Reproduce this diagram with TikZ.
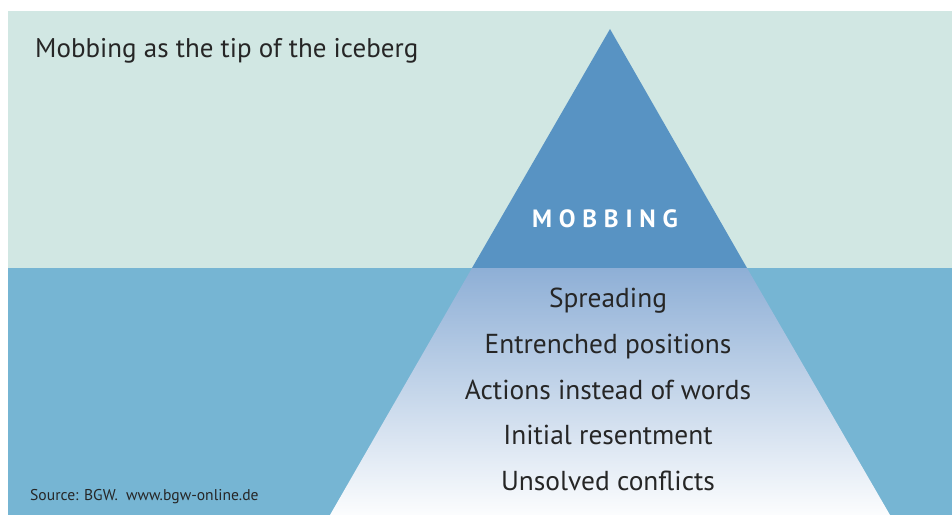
\documentclass[tikz,border=0pt]{standalone}
\usepackage{fontspec}
\setmainfont{PT Sans}
\begin{document}
\begin{tikzpicture}[x=1pt,y=1pt,
  label/.style={text=black!85, font=\fontsize{27.4}{30}\selectfont, inner sep=0pt, anchor=base},
]
\definecolor{sky}{HTML}{D1E7E3}
\definecolor{sea}{HTML}{76B5D3}
\definecolor{tip}{HTML}{5893C3}
\definecolor{icetop}{HTML}{8EAFD6}
\useasboundingbox (0,0) rectangle (952,515);
\fill[white] (0,0) rectangle (952,515);
% sky and sea
\fill[sky] (8,247) rectangle (952,504);
\fill[sea] (8,0) rectangle (952,247);
% tip
\fill[tip] (610,486) -- (472,247) -- (747,247) -- cycle;
% submerged part
\shade[top color=icetop, bottom color=white!97!icetop] (472,247) -- (747,247) -- (890,0) -- (330,0) -- cycle;
% texts
\node[label, anchor=base west, font=\fontsize{27}{30}\selectfont] (title) at (35,457) {Mobbing as the tip of the iceberg};
\node[label, text=white, font=\fontsize{25}{28}\selectfont\bfseries] (mob) at (605,288) {\addfontfeature{LetterSpace=27}MOBBING};
\node[label] (l1) at (608,208) {Spreading};
\node[label] (l2) at (608,162) {Entrenched positions};
\node[label] (l3) at (608,116) {Actions instead of words};
\node[label] (l4) at (608,71) {Initial resentment};
\node[label] (l5) at (608,25) {Unsolved conflicts};
\node[label, anchor=base west, font=\fontsize{15.6}{18}\selectfont] (src) at (30,15) {Source: BGW.\ \ www.bgw-online.de};
\end{tikzpicture}
\end{document}
